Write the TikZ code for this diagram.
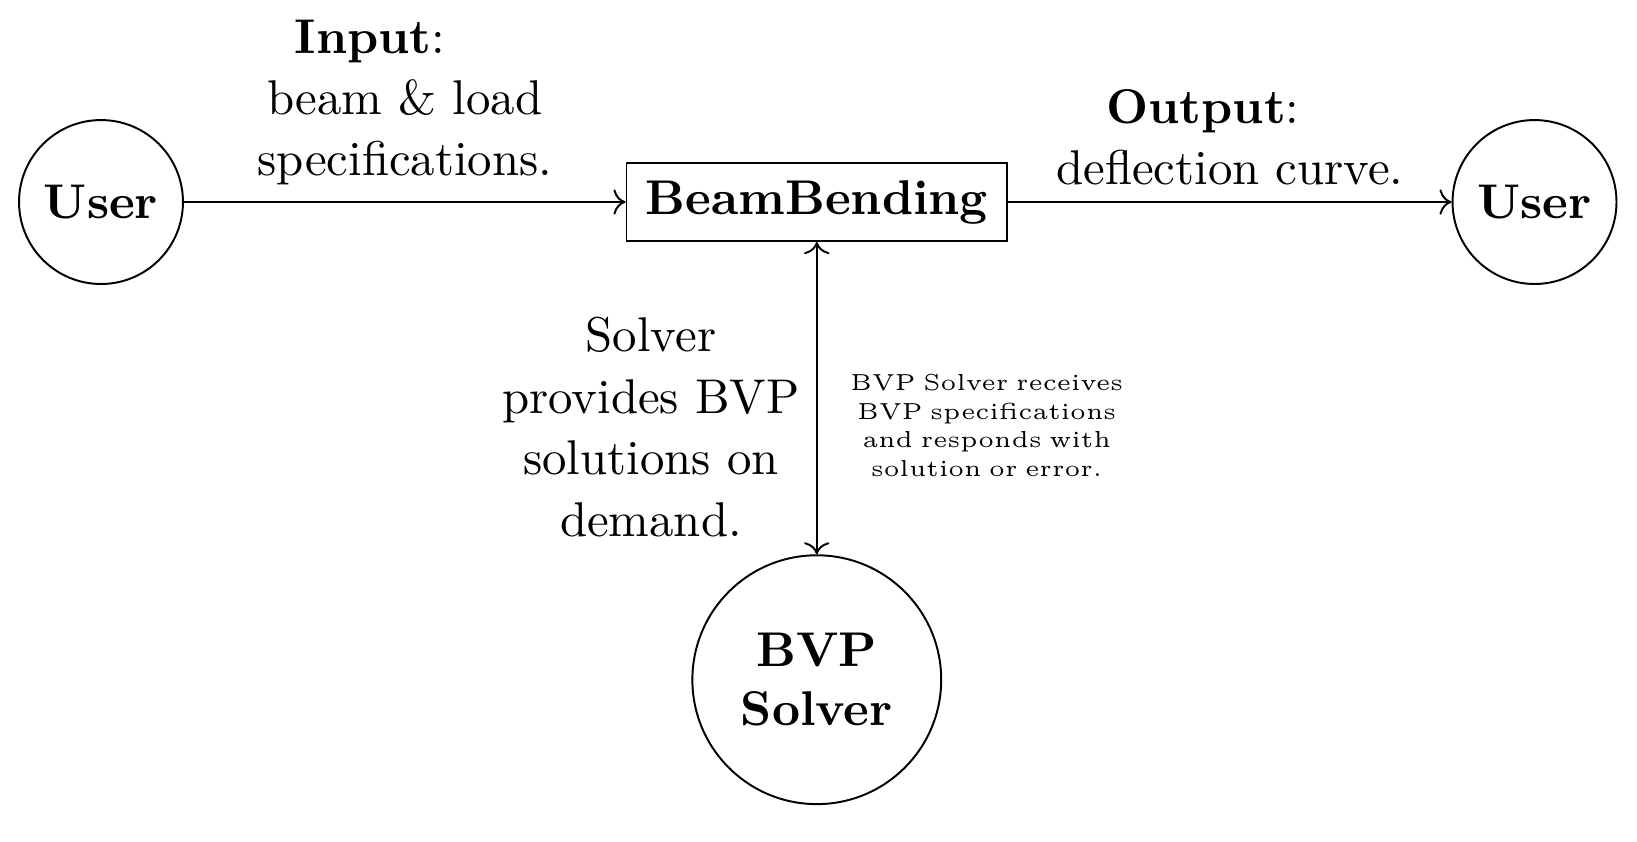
\documentclass[tikz,border=0pt]{standalone}
\usepackage{graphicx}
\usetikzlibrary{arrows.meta}
\begin{document}
\begin{tikzpicture}[
  actor/.style={draw, circle, minimum size=33.6pt, inner sep=3.33pt, font=\bfseries},
  solver/.style={draw, circle, minimum size=51pt, inner sep=3.33pt, font=\bfseries, align=center},
  module/.style={draw, rectangle, minimum width=78pt, minimum height=16pt, font=\bfseries},
  flow/.style={->, line width=0.4pt},
  edgetext/.style={align=center, font=\fontsize{10}{12.5}\selectfont},
  lbl/.style={align=center, text width=2.2cm},
  line width=0.4pt
]
\useasboundingbox (0pt,0pt) rectangle (335.5pt,-172.5pt);

\node[actor]  (userA) at (20.7pt,-41.4pt) {User};
\node[module] (bb)    at (167.4pt,-41.4pt) {BeamBending};
\node[actor]  (userB) at (314.5pt,-41.4pt) {User};
\node[solver] (bvp)   at (167.4pt,-139.3pt) {BVP\\Solver};

\draw[flow] (userA) -- node[above, edgetext] {\textbf{Input}:\hbox to 14.3pt{}\\beam \& load\\specifications.} (bb);
\draw[flow] (bb) -- node[above, edgetext] {\textbf{Output}:\hbox to 11pt{}\\deflection curve.} (userB);
\draw[<->] (bb) --
  node[pos=0.5925, left, lbl, xshift=0.85pt, font=\fontsize{10}{12.7}\selectfont] {Solver\\provides BVP\\solutions on\\demand.}
  node[pos=0.595, right, lbl, font=\tiny] {\scalebox{0.95}{\renewcommand\arraystretch{1.033}\begin{tabular}{@{}c@{}}BVP Solver receives\\BVP specifications\\and responds with\\solution or error.\end{tabular}}}
  (bvp);
\end{tikzpicture}
\end{document}
